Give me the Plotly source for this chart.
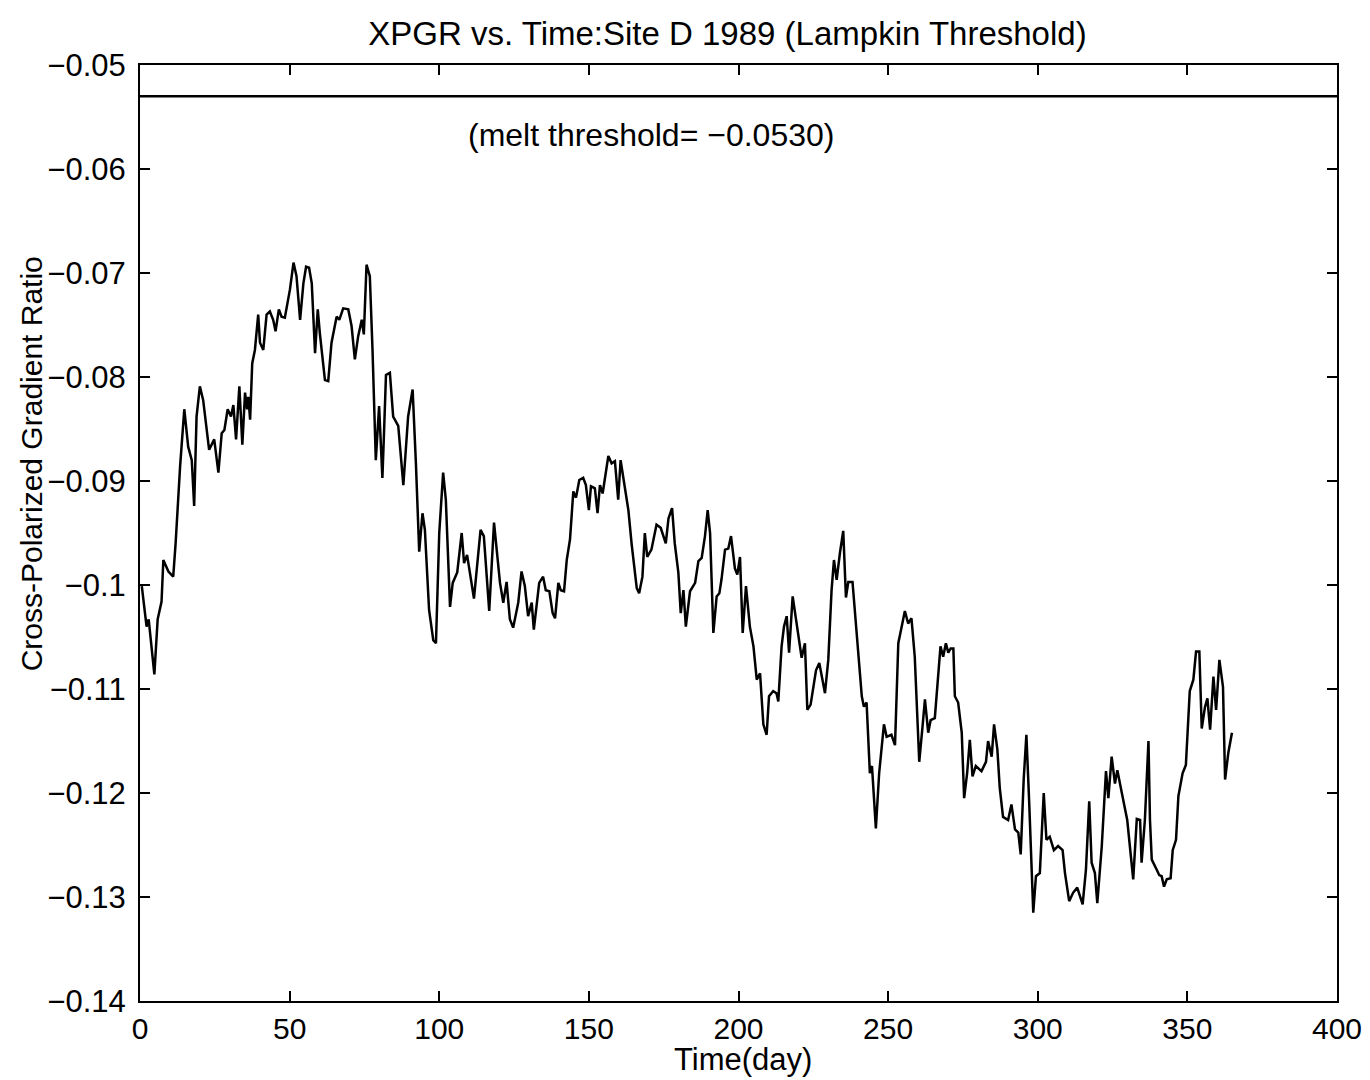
import plotly.graph_objects as go

# Day of year and cross-polarized gradient ratio
day = [
    0.6, 2.2, 2.9, 4.8, 5.9, 7.2, 7.8, 9.5, 11.1, 11.9, 13.4, 14.8, 16.1, 17.3, 18.1, 18.9, 20.0, 21.1,
    23.1, 24.8, 26.2, 27.3, 28.2, 29.3, 30.4, 31.2, 32.1, 33.2, 34.2, 35.1, 35.8, 36.2, 36.8, 37.5,
    38.4, 39.5, 40.1, 41.2, 42.3, 43.4, 44.5, 45.3, 46.4, 47.3, 48.4, 50.1, 51.3, 52.3, 53.5, 54.6,
    55.5, 56.5, 57.4, 58.5, 59.4, 60.1, 61.8, 62.9, 64.0,
    65.7, 66.6, 67.9, 69.6, 70.7, 71.8, 72.9, 74.1, 74.8, 75.7, 76.8, 77.7, 78.8, 79.9, 80.4, 81.0,
    81.5, 82.2, 83.5, 84.6, 86.3, 88.0, 89.6, 91.1, 92.2, 93.3, 94.4, 95.2, 96.6, 98.0, 98.9, 100.0,
    101.3, 102.2, 103.6, 104.5, 106.0, 107.5, 108.3, 109.3, 111.6, 113.8, 114.9, 116.7, 118.3, 120.3,
    121.4, 122.5, 123.6, 124.7, 126.4,
    127.5, 128.6, 129.7, 130.9, 131.6, 133.4, 134.7, 135.6, 136.8, 137.9, 138.7, 139.8, 140.6, 141.7,
    142.6, 143.7, 144.8, 145.7, 146.8, 148.1, 149.0, 150.0, 150.7, 152.0, 152.9, 153.7, 154.6, 156.5,
    157.6, 158.7, 159.8, 160.6, 162.0, 163.2, 164.3, 165.4, 166.0, 166.8, 167.9, 168.7, 169.5, 170.9,
    172.6, 174.0, 175.7, 176.6, 177.8, 178.7, 179.9, 180.7, 181.6, 182.4, 183.8, 185.5, 186.6, 187.7,
    188.8, 189.7, 190.5,
    191.6, 192.7, 193.6, 194.3, 195.5, 196.6, 197.5, 198.8, 199.6, 200.5, 201.4, 202.5, 203.8, 205.0,
    206.1, 207.2, 208.3, 209.4, 210.2, 211.6, 212.7, 213.3, 214.4, 215.2, 216.1, 216.9, 218.1, 219.2,
    220.0, 221.1, 222.2, 223.0, 224.1, 225.9, 227.0, 228.9, 230.0, 231.1, 231.9, 232.8, 233.9, 235.0,
    235.9, 236.7, 238.1, 239.5, 241.2, 241.9, 242.8, 243.9, 244.6, 245.9, 247.0, 248.6, 249.5, 251.1,
    252.3, 253.4,
    255.6, 256.7, 257.8, 258.9, 260.4, 261.5, 262.3, 263.4, 264.2, 265.6, 266.7, 267.5, 268.4, 269.3,
    270.1, 270.9, 271.8, 272.3, 273.4, 274.6, 275.4, 276.4, 277.3, 278.2, 279.3, 281.2, 282.7, 283.4,
    284.6, 285.4, 286.5, 287.3, 288.4, 290.1, 291.2, 292.4, 293.5, 294.3, 295.3, 296.2, 297.1, 298.5,
    299.4, 300.7, 302.0, 302.9, 304.0, 305.4, 306.8, 308.3, 309.1, 310.5, 311.8, 313.2, 315.0, 316.1,
    317.2,
    318.0, 319.1, 319.9, 321.4, 322.8, 323.6, 324.7, 325.8, 326.6, 328.1, 329.9, 331.9, 333.1, 334.2,
    334.7, 335.8, 337.0, 337.5, 338.1, 339.8, 340.6, 341.4, 342.2, 343.1, 344.4, 345.1, 346.2, 347.0,
    348.4, 349.5, 350.3, 350.8, 352.0, 352.9, 354.0, 354.8, 355.9, 356.7, 357.6, 358.7, 359.6, 360.7,
    361.9, 362.6, 363.7, 364.9,
]

xpgr = [
    -0.1001, -0.1040, -0.1033, -0.1086, -0.1033, -0.1016, -0.0976, -0.0987, -0.0992, -0.0960, -0.0886,
    -0.0831, -0.0867, -0.0880, -0.0924, -0.0838, -0.0809, -0.0822, -0.0870, -0.0860, -0.0892, -0.0854,
    -0.0851, -0.0831, -0.0838, -0.0827, -0.0860, -0.0809, -0.0865, -0.0815, -0.0831, -0.0819, -0.0841,
    -0.0787, -0.0774, -0.0740, -0.0767, -0.0774, -0.0740, -0.0737, -0.0745, -0.0756, -0.0735, -0.0742,
    -0.0743, -0.0716, -0.0690, -0.0703, -0.0745, -0.0710, -0.0694, -0.0695, -0.0710, -0.0777, -0.0735,
    -0.0758, -0.0803, -0.0804, -0.0767,
    -0.0742, -0.0745, -0.0734, -0.0735, -0.0751, -0.0783, -0.0761, -0.0745, -0.0759, -0.0692, -0.0703,
    -0.0774, -0.0880, -0.0828, -0.0867, -0.0897, -0.0857, -0.0798, -0.0796, -0.0838, -0.0847, -0.0904,
    -0.0838, -0.0812, -0.0883, -0.0968, -0.0931, -0.0947, -0.1024, -0.1053, -0.1056, -0.0950, -0.0892,
    -0.0918, -0.1021, -0.0998, -0.0988, -0.0950, -0.0979, -0.0971, -0.1013, -0.0947, -0.0953, -0.1025,
    -0.0940, -0.0998, -0.1017, -0.0997, -0.1033, -0.1041, -0.1017,
    -0.0987, -0.1001, -0.1030, -0.1017, -0.1043, -0.0998, -0.0992, -0.1005, -0.1006, -0.1027, -0.1032,
    -0.0998, -0.1005, -0.1006, -0.0976, -0.0956, -0.0910, -0.0916, -0.0899, -0.0897, -0.0904, -0.0928,
    -0.0905, -0.0907, -0.0931, -0.0904, -0.0912, -0.0876, -0.0883, -0.0881, -0.0918, -0.0880, -0.0905,
    -0.0928, -0.0961, -0.0985, -0.1003, -0.1008, -0.0992, -0.0950, -0.0973, -0.0966, -0.0942, -0.0945,
    -0.0960, -0.0936, -0.0926, -0.0960, -0.0988, -0.1027, -0.1005, -0.1040, -0.1006, -0.0998, -0.0977,
    -0.0974, -0.0953, -0.0928, -0.0950,
    -0.1046, -0.1011, -0.1008, -0.0995, -0.0966, -0.0965, -0.0953, -0.0984, -0.0990, -0.0973, -0.1046,
    -0.1001, -0.1040, -0.1059, -0.1091, -0.1085, -0.1134, -0.1144, -0.1107, -0.1102, -0.1104, -0.1112,
    -0.1059, -0.1040, -0.1030, -0.1065, -0.1011, -0.1033, -0.1049, -0.1070, -0.1056, -0.1120, -0.1115,
    -0.1082, -0.1075, -0.1104, -0.1072, -0.1005, -0.0976, -0.0995, -0.0969, -0.0948, -0.1012, -0.0997,
    -0.0997, -0.1049, -0.1107, -0.1117, -0.1113, -0.1181, -0.1174, -0.1234, -0.1181, -0.1134, -0.1146,
    -0.1144, -0.1154, -0.1056,
    -0.1025, -0.1037, -0.1032, -0.1069, -0.1170, -0.1136, -0.1110, -0.1142, -0.1130, -0.1128, -0.1091,
    -0.1059, -0.1069, -0.1056, -0.1065, -0.1061, -0.1061, -0.1107, -0.1113, -0.1142, -0.1205, -0.1181,
    -0.1149, -0.1184, -0.1174, -0.1179, -0.1170, -0.1150, -0.1165, -0.1134, -0.1158, -0.1195, -0.1223,
    -0.1226, -0.1211, -0.1235, -0.1238, -0.1259, -0.1187, -0.1144, -0.1206, -0.1315, -0.1280, -0.1277,
    -0.1200, -0.1245, -0.1242, -0.1255, -0.1251, -0.1255, -0.1277, -0.1304, -0.1296, -0.1291, -0.1307,
    -0.1274, -0.1208,
    -0.1267, -0.1277, -0.1306, -0.1251, -0.1179, -0.1205, -0.1165, -0.1191, -0.1178, -0.1200, -0.1226,
    -0.1283, -0.1225, -0.1226, -0.1267, -0.1226, -0.1150, -0.1226, -0.1264, -0.1274, -0.1279, -0.1280,
    -0.1290, -0.1283, -0.1282, -0.1255, -0.1245, -0.1203, -0.1181, -0.1173, -0.1130, -0.1102, -0.1091,
    -0.1064, -0.1064, -0.1138, -0.1117, -0.1109, -0.1139, -0.1088, -0.1120, -0.1072, -0.1098, -0.1187,
    -0.1161, -0.1142,
]

melt_threshold = -0.0530
threshold_x = [0, 400]
x_ticks = [0, 50, 100, 150, 200, 250, 300, 350, 400]
y_ticks = [-0.14, -0.13, -0.12, -0.11, -0.10, -0.09, -0.08, -0.07, -0.06, -0.05]

title_text = "XPGR vs. Time:Site D 1989 (Lampkin Threshold)"
x_title = "Time(day)"
y_title = "Cross-Polarized Gradient Ratio"
note_text = "(melt threshold= \u22120.0530)"

FONT = "Liberation Sans, Arial, Helvetica, sans-serif"

fig = go.Figure()
fig.add_trace(go.Scatter(x=day, y=xpgr, mode="lines",
                         line=dict(color="black", width=2.5), showlegend=False))
fig.add_trace(go.Scatter(x=threshold_x, y=[melt_threshold, melt_threshold], mode="lines",
                         line=dict(color="black", width=2.5), showlegend=False))

# threshold note
fig.add_annotation(x=170.8, y=-0.0567, text=note_text, showarrow=False,
                   font=dict(family=FONT, size=32, color="black"),
                   xanchor="center", yanchor="middle")
# x-axis title
fig.add_annotation(x=0.504, xref="paper", y=0, yref="paper", yshift=-58,
                   text=x_title, showarrow=False,
                   font=dict(family=FONT, size=31, color="black"),
                   xanchor="center", yanchor="middle")
# y-axis title
fig.add_annotation(x=0, xref="paper", xshift=-109, y=-0.0884, yref="y",
                   text=y_title, showarrow=False, textangle=-90,
                   font=dict(family=FONT, size=30, color="black"),
                   xanchor="center", yanchor="middle")

axis_common = dict(
    showgrid=False, zeroline=False, showline=True, linecolor="black", linewidth=2,
    mirror="ticks", ticks="inside", ticklen=10, tickwidth=2, tickcolor="black",
    automargin=False,
)

fig.update_layout(
    width=1370, height=1080,
    margin=dict(l=140, r=33, t=65, b=79),
    paper_bgcolor="white", plot_bgcolor="white",
    font=dict(family=FONT, size=30, color="black"),
    title=dict(text=title_text, x=0.531, xanchor="center", y=0.969, yanchor="middle",
               font=dict(family=FONT, size=33, color="black")),
    xaxis=dict(range=[0, 400], tickvals=x_ticks,
               tickfont=dict(family=FONT, size=30, color="black"), **axis_common),
    yaxis=dict(range=[-0.14, -0.05], tickvals=y_ticks, ticklabelstandoff=6,
               tickfont=dict(family=FONT, size=31, color="black"), **axis_common),
)

fig.write_html(
    "out.html",
    config={"displayModeBar": False},
    post_script="document.body.style.margin='0';document.body.style.padding='0';"
                "document.documentElement.style.overflow='hidden';",
)
